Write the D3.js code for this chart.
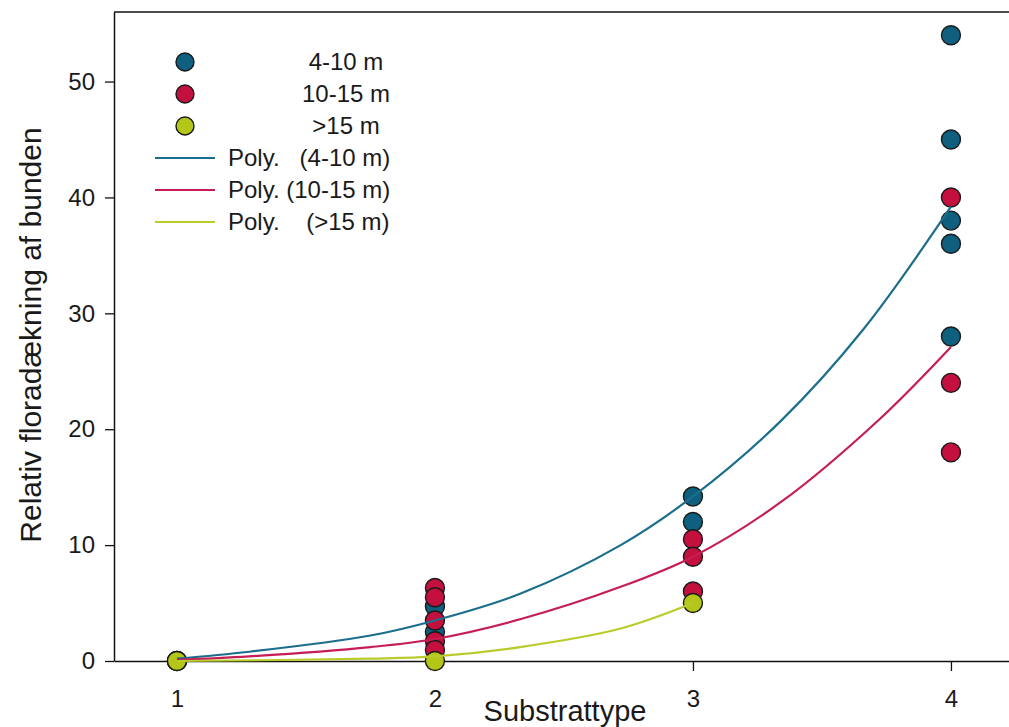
<!DOCTYPE html>
<html>
<head>
<meta charset="utf-8">
<script src="https://cdn.jsdelivr.net/npm/d3@7"></script>
<style>
  html, body { margin: 0; padding: 0; background: #fff; }
  svg { display: block; font-family: "Liberation Sans", Arial, sans-serif; }
</style>
</head>
<body>
<svg id="chart" width="1009" height="727"></svg>
<script>
// ---- Data ----
const xTicks = [1, 2, 3, 4];
const yTicks = [0, 10, 20, 30, 40, 50];

const series = ["4-10 m", "10-15 m", ">15 m"];
const seriesColors = ["#0f5f7e", "#c4103f", "#b4c618"];
const lineColors = ["#1b6e8c", "#c41e55", "#b9cc2c"];
const lineLabels = ["Poly.   (4-10 m)", "Poly. (10-15 m)", "Poly.    (>15 m)"];

// observations: substrate type (x) and cover (y)
const blueX = [1, 2, 2, 3, 3, 4, 4, 4, 4, 4];
const blueY = [0, 4.7, 2.5, 14.2, 12.0, 54, 45, 38, 36, 28];
const redX  = [1, 2, 2, 2, 2, 2, 3, 3, 3, 4, 4, 4];
const redY  = [0, 6.3, 5.5, 3.5, 1.7, 0.95, 10.5, 9.0, 6.0, 40, 24, 18];
const greenX = [1, 2, 3];
const greenY = [0, 0, 5.0];

// fitted trend curves
const blueCurveX = [1, 1.28, 1.75, 2, 2.33, 2.72, 3, 3.34, 3.66, 4];
const blueCurveY = [0.2, 0.8, 2.2, 3.5, 5.8, 10.0, 14.2, 20.7, 28.6, 39.2];
const redCurveX  = [1, 1.28, 1.75, 2, 2.33, 2.72, 3, 3.34, 3.72, 4];
const redCurveY  = [0.1, 0.4, 1.2, 1.9, 3.6, 6.4, 9.0, 13.7, 20.8, 27.1];
const greenCurveX = [1, 1.75, 2, 2.33, 2.72, 3];
const greenCurveY = [0, 0.2, 0.4, 1.2, 2.8, 5.0];

// ---- Chart ----
const svg = d3.select("#chart");
const pLeft = 114, pRight = 1009, pTop = 12, pBottom = 661;

const x = d3.scaleLinear().domain([0.756, 4.225]).range([pLeft, pRight]);
const y = d3.scaleLinear().domain([0, 56]).range([pBottom, pTop]);

const textColor = "#1a1a1a";
const fontFam = "Liberation Sans, Arial, sans-serif";

// frame (top line)
svg.append("line").attr("x1", pLeft).attr("x2", pRight).attr("y1", pTop).attr("y2", pTop)
  .attr("stroke", "#111").attr("stroke-width", 1.5);

// y axis
const yAxis = svg.append("g").attr("transform", `translate(${pLeft},0)`)
  .call(d3.axisLeft(y).tickValues(yTicks).tickSize(9).tickPadding(10).tickSizeOuter(0));
yAxis.select(".domain").attr("stroke", "#111").attr("stroke-width", 1.5);
yAxis.selectAll(".tick line").attr("stroke", "#111").attr("stroke-width", 1.3);
yAxis.selectAll("text").attr("font-size", 24).attr("fill", textColor).attr("font-family", fontFam);

// x axis
const xAxis = svg.append("g").attr("transform", `translate(0,${pBottom})`)
  .call(d3.axisBottom(x).tickValues(xTicks).tickFormat(d3.format("d")).tickSize(10).tickPadding(19).tickSizeOuter(0));
xAxis.select(".domain").attr("stroke", "#111").attr("stroke-width", 1.5);
xAxis.selectAll(".tick line").attr("stroke", "#111").attr("stroke-width", 1.3);
xAxis.selectAll("text").attr("font-size", 24).attr("fill", textColor).attr("font-family", fontFam);

// axis titles
svg.append("text").attr("x", 565).attr("y", 721).attr("text-anchor", "middle")
  .attr("font-size", 29).attr("fill", textColor).text("Substrattype");
svg.append("text").attr("transform", "translate(41,335) rotate(-90)").attr("text-anchor", "middle")
  .attr("font-size", 30).attr("fill", textColor).text("Relativ floradækning af bunden");

// points
const pointSets = [
  { xs: blueX, ys: blueY, c: seriesColors[0] },
  { xs: redX, ys: redY, c: seriesColors[1] },
  { xs: greenX, ys: greenY, c: seriesColors[2] }
];
const r = 9.5;
pointSets.forEach(s => {
  svg.append("g").selectAll("circle")
    .data(s.xs.map((xv, i) => [xv, s.ys[i]]))
    .join("circle")
    .attr("cx", d => x(d[0])).attr("cy", d => y(d[1])).attr("r", r)
    .attr("fill", s.c).attr("stroke", "#1a1a1a").attr("stroke-width", 1.4);
});

// trend curves (drawn over points)
const curveSets = [
  { xs: blueCurveX, ys: blueCurveY, c: lineColors[0] },
  { xs: redCurveX, ys: redCurveY, c: lineColors[1] },
  { xs: greenCurveX, ys: greenCurveY, c: lineColors[2] }
];
const line = d3.line().x(d => x(d[0])).y(d => y(d[1])).curve(d3.curveCatmullRom.alpha(0.5));
curveSets.forEach(s => {
  svg.append("path").datum(s.xs.map((xv, i) => [xv, s.ys[i]]))
    .attr("d", line).attr("fill", "none").attr("stroke", s.c).attr("stroke-width", 2.2);
});

// legend
const legend = svg.append("g");
series.forEach((name, i) => {
  const cy = 62 + i * 32;
  legend.append("circle").attr("cx", 185).attr("cy", cy).attr("r", 9)
    .attr("fill", seriesColors[i]).attr("stroke", "#1a1a1a").attr("stroke-width", 1.4);
  legend.append("text").attr("x", 346).attr("y", cy + 8).attr("text-anchor", "middle")
    .attr("font-size", 24).attr("fill", textColor).text(name);
});
lineLabels.forEach((name, i) => {
  const ly = 158 + i * 32;
  legend.append("line").attr("x1", 155).attr("x2", 215).attr("y1", ly).attr("y2", ly)
    .attr("stroke", lineColors[i]).attr("stroke-width", 2.2);
  legend.append("text").attr("x", 228).attr("y", ly + 8)
    .attr("font-size", 24).attr("fill", textColor)
    .style("white-space", "pre").text(name);
});
</script>
</body>
</html>
